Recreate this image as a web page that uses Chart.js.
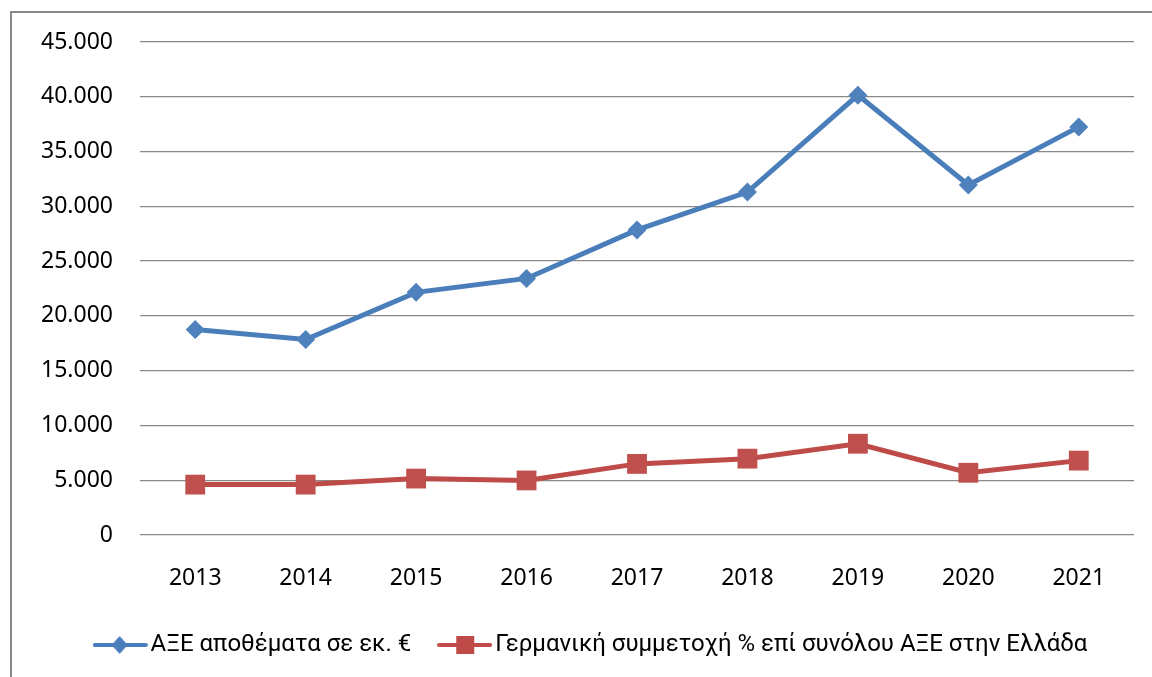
<!DOCTYPE html>
<html lang="el">
<head>
<meta charset="utf-8">
<script src="https://cdn.jsdelivr.net/npm/chart.js@4.4.1/dist/chart.umd.min.js"></script>
<style>
  html, body { margin: 0; padding: 0; background: #fff; }
</style>
</head>
<body>
<canvas id="chart" width="1152" height="677"></canvas>
<script>
// values
const years = ['2013', '2014', '2015', '2016', '2017', '2018', '2019', '2020', '2021'];
const fdiStock = [18760, 17840, 22150, 23420, 27850, 31300, 40150, 31950, 37250];
const germanShare = [4600, 4600, 5150, 4980, 6490, 6970, 8330, 5680, 6790];
const seriesLabels = ['ΑΞΕ αποθέματα σε εκ. €', 'Γερμανική συμμετοχή % επί συνόλου ΑΞΕ στην Ελλάδα'];

const BLUE = '#4A7EBB';
const RED = '#BE4B48';
const tickFont = { family: 'Noto Sans', size: 23 };
const legendFont = { family: 'Roboto', size: 24 };

// small canvas with a line and its marker, used as the legend sample
function legendSample(color, marker) {
  const c = document.createElement('canvas');
  c.width = 55;
  c.height = 22;
  const ctx = c.getContext('2d');
  ctx.strokeStyle = color;
  ctx.fillStyle = color;
  ctx.lineWidth = 4;
  ctx.lineCap = 'round';
  ctx.beginPath();
  ctx.moveTo(2, 11);
  ctx.lineTo(53, 11);
  ctx.stroke();
  ctx.beginPath();
  if (marker === 'diamond') {
    ctx.moveTo(27, 2);
    ctx.lineTo(35, 11);
    ctx.lineTo(27, 20);
    ctx.lineTo(19, 11);
    ctx.closePath();
    ctx.fill();
  } else {
    ctx.fillRect(19, 2, 18, 18);
  }
  return c;
}
const samples = [legendSample(BLUE, 'diamond'), legendSample(RED, 'square')];

// gray frame round the chart (right and bottom edges fall outside the picture)
const framePlugin = {
  id: 'frame',
  beforeDraw(chart) {
    const ctx = chart.ctx;
    ctx.save();
    ctx.fillStyle = '#fff';
    ctx.fillRect(0, 0, chart.width, chart.height);
    ctx.strokeStyle = '#878787';
    ctx.lineWidth = 2;
    ctx.beginPath();
    ctx.moveTo(11, chart.height + 5);
    ctx.lineTo(11, 12);
    ctx.lineTo(chart.width + 5, 12);
    ctx.stroke();
    ctx.restore();
  },
  // the legend sits a bit right of centre in the original
  afterLayout(chart) {
    chart.legend.left = 55;
  }
};

const fmt = (v) => String(v).replace(/\B(?=(\d{3})+(?!\d))/g, '.');

new Chart(document.getElementById('chart'), {
  type: 'line',
  data: {
    labels: years,
    datasets: [
      {
        label: seriesLabels[0],
        data: fdiStock,
        borderColor: BLUE,
        backgroundColor: '#4F81BD',
        borderWidth: 5,
        pointStyle: 'rectRot',
        pointRadius: 9.5,
        pointBorderWidth: 0,
        tension: 0,
      },
      {
        label: seriesLabels[1],
        data: germanShare,
        borderColor: RED,
        backgroundColor: '#C0504D',
        borderWidth: 5,
        pointStyle: 'rect',
        pointRadius: 14,
        pointBorderWidth: 0,
        tension: 0,
      },
    ],
  },
  options: {
    responsive: false,
    animation: false,
    layout: {
      padding: { top: 42, right: 18, bottom: 10, left: 0 },
    },
    scales: {
      x: {
        offset: true,
        grid: { display: false },
        border: { display: false },
        ticks: { color: '#000', font: tickFont, padding: 22, maxRotation: 0 },
        afterFit: (axis) => { axis.height = 63; },
      },
      y: {
        min: 0,
        max: 45000,
        grid: { color: '#898989', lineWidth: 1.3, drawTicks: false },
        border: { display: false },
        ticks: { stepSize: 5000, color: '#000', font: tickFont, padding: 27, callback: fmt },
        afterFit: (axis) => { axis.width = 140; },
      },
    },
    plugins: {
      legend: {
        position: 'bottom',
        labels: {
          color: '#000',
          font: legendFont,
          usePointStyle: true,
          pointStyleWidth: 37,
          padding: 35,
          generateLabels: (chart) => chart.data.datasets.map((ds, i) => ({
            text: ds.label,
            pointStyle: samples[i],
            fillStyle: ds.borderColor,
            strokeStyle: ds.borderColor,
            lineWidth: 0,
            hidden: false,
            datasetIndex: i,
            fontColor: '#000',
          })),
        },
      },
      tooltip: { enabled: false },
    },
  },
  plugins: [framePlugin],
});
</script>
</body>
</html>
